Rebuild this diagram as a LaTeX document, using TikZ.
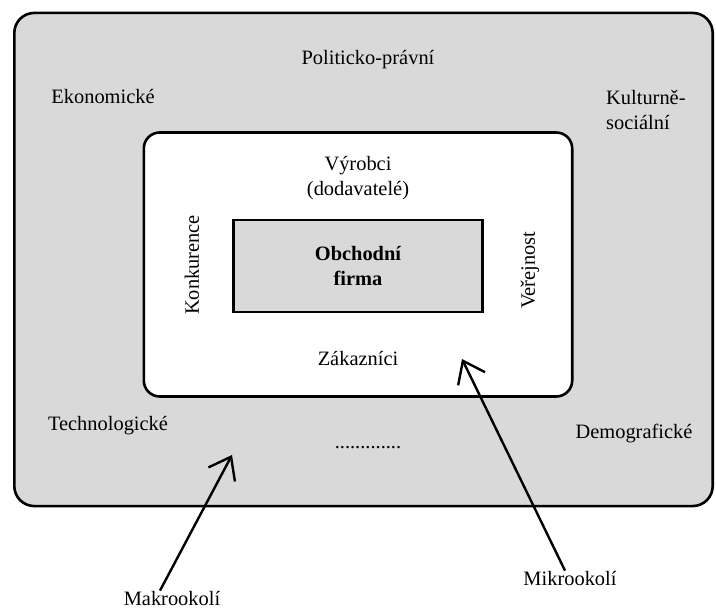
\documentclass[tikz,border=0pt]{standalone}
\usepackage{fontspec}
\setmainfont{Liberation Serif}
\usetikzlibrary{arrows.meta}

\begin{document}
\begin{tikzpicture}[x=1bp, y=-1bp, font=\fontsize{20.5}{24.5}\selectfont]

\useasboundingbox (0,0) rectangle (716,610);

%% setup styles for the boxes and labels
\tikzstyle{box}=[draw=black, line width=2.6bp, inner sep=0pt]
\tikzstyle{macro box}=[box, rounded corners=20bp, fill=black!15]
\tikzstyle{micro box}=[box, rounded corners=16bp, fill=white]
\tikzstyle{firm box}=[box, fill=black!15]
\tikzstyle{factor}=[align=center, inner sep=0pt]
\tikzstyle{pointer}=[line width=2.4bp, -{Straight Barb[length=20bp,width=30bp]}]

% Draw the nested boxes
\node[macro box, minimum width=701, minimum height=495] (makro) at (363.5,259.5) {};
\node[micro box, minimum width=430, minimum height=265] (mikro) at (358,264.5) {};
\node[firm box, minimum width=250, minimum height=92] (firma) at (358,266) {};

% Macro environment factors
\node[factor] (polit) at (368,60) {Politicko-právní};
\node[factor] (ekon) at (103,97) {Ekonomické};
\node[factor, align=left, anchor=west] (kult) at (606,110) {Kulturně-\\sociální};
\node[factor] (tech) at (108,426) {Technologické};
\node[factor] (demo) at (634,434) {Demografické};
\node[factor] (dots) at (368,448) {.............};

% Micro environment factors
\node[factor] (vyrob) at (358,178) {Výrobci\\(dodavatelé)};
\node[factor, font=\fontsize{20.5}{25}\selectfont\bfseries] (obch) at (firma) {Obchodní\\firma};
\node[factor] (zakaz) at (358,358) {Zákazníci};
\node[factor, rotate=90] (konk) at (192,265) {Konkurence};
\node[factor, rotate=90] (verej) at (530,270) {Veřejnost};

% Labels with pointers
\node[factor] (lbl-makro) at (172,598) {Makrookolí};
\node[factor] (lbl-mikro) at (570,578) {Mikrookolí};
\coordinate (makro tip) at (232,455);
\coordinate (mikro tip) at (462,359);

\draw[pointer] ([xshift=-12bp]lbl-makro.north) -- (makro tip);
\draw[pointer] ([xshift=-5bp]lbl-mikro.north) -- (mikro tip);

\end{tikzpicture}
\end{document}
